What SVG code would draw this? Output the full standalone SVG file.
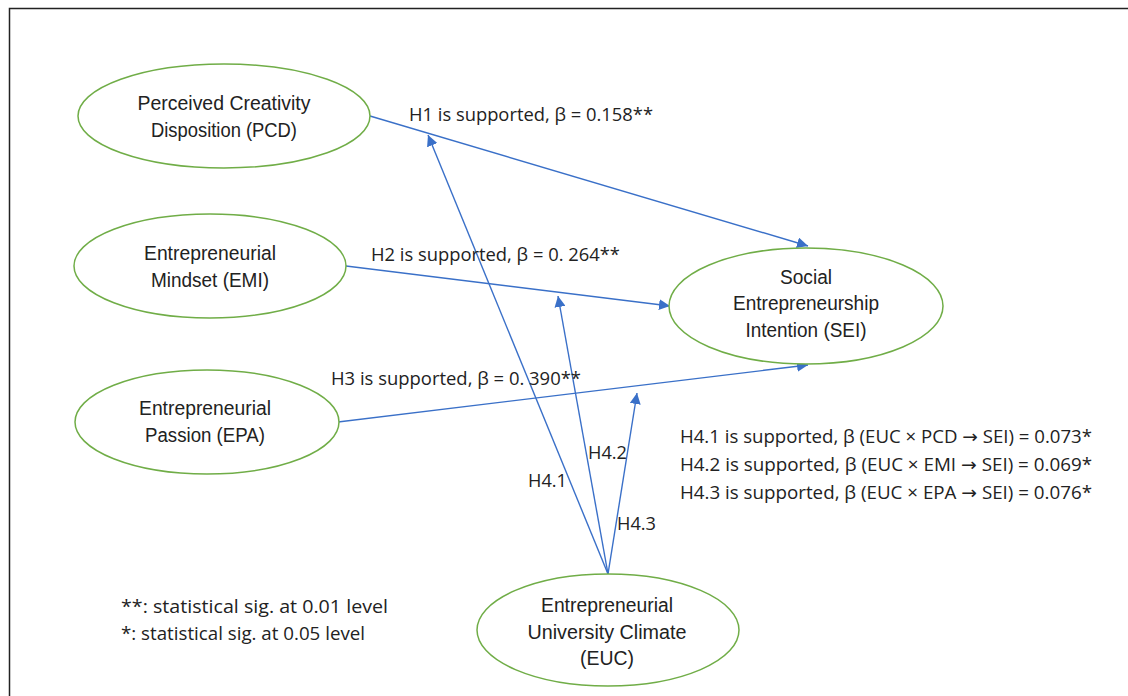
<svg xmlns="http://www.w3.org/2000/svg" width="1128" height="696" viewBox="0 0 1128 696">
<defs>
<style>
.frame{fill:#fff;stroke:#222;stroke-width:1.5}
.node{fill:#fff;stroke:#70ad47;stroke-width:1.5}
.nt{font-family:"Liberation Sans",Arial,sans-serif;font-size:20px;fill:#222;text-anchor:middle}
.lbl{font-family:"Open Sans","Noto Sans",sans-serif;font-size:18px;fill:#222}
.ar{font-family:"DejaVu Sans",sans-serif}
.edge{stroke:#3a70c8;stroke-width:1.4;fill:none;marker-end:url(#ah)}
</style>
<marker id="ah" viewBox="0 0 10 10" refX="10" refY="5" markerWidth="11" markerHeight="11" markerUnits="userSpaceOnUse" orient="auto">
<path d="M0,0 L10,5 L0,10 z" fill="#3a70c8"/>
</marker>
</defs>
<rect width="1128" height="696" fill="#fff"/>
<rect class="frame" x="9.5" y="8.5" width="1130" height="700"/>
<g id="connectors">
<line class="edge" x1="370" y1="116" x2="808" y2="246"/>
<line class="edge" x1="346" y1="266" x2="670" y2="306"/>
<line class="edge" x1="338" y1="422" x2="808" y2="365"/>
<line class="edge" x1="608" y1="574" x2="428" y2="135"/>
<line class="edge" x1="608" y1="574" x2="558" y2="296"/>
<line class="edge" x1="608" y1="574" x2="637" y2="393"/>
</g>
<g id="node-pcd">
<ellipse class="node" cx="224" cy="116" rx="146" ry="52"/>
<text class="nt" x="224" y="110" textLength="173" lengthAdjust="spacingAndGlyphs">Perceived Creativity</text>
<text class="nt" x="224" y="137" textLength="146" lengthAdjust="spacingAndGlyphs">Disposition (PCD)</text>
</g>
<g id="node-emi">
<ellipse class="node" cx="210" cy="266" rx="136" ry="52"/>
<text class="nt" x="210" y="260" textLength="132" lengthAdjust="spacingAndGlyphs">Entrepreneurial</text>
<text class="nt" x="210" y="287" textLength="118" lengthAdjust="spacingAndGlyphs">Mindset (EMI)</text>
</g>
<g id="node-epa">
<ellipse class="node" cx="207" cy="422" rx="132" ry="52"/>
<text class="nt" x="205" y="415" textLength="132" lengthAdjust="spacingAndGlyphs">Entrepreneurial</text>
<text class="nt" x="205" y="442" textLength="120" lengthAdjust="spacingAndGlyphs">Passion (EPA)</text>
</g>
<g id="node-sei">
<ellipse class="node" cx="806" cy="306" rx="137" ry="58"/>
<text class="nt" x="806" y="284" textLength="52" lengthAdjust="spacingAndGlyphs">Social</text>
<text class="nt" x="806" y="310" textLength="146" lengthAdjust="spacingAndGlyphs">Entrepreneurship</text>
<text class="nt" x="806" y="337" textLength="121" lengthAdjust="spacingAndGlyphs">Intention (SEI)</text>
</g>
<g id="node-euc">
<ellipse class="node" cx="608" cy="630" rx="131" ry="56"/>
<text class="nt" x="607" y="612" textLength="132" lengthAdjust="spacingAndGlyphs">Entrepreneurial</text>
<text class="nt" x="607" y="639" textLength="159" lengthAdjust="spacingAndGlyphs">University Climate</text>
<text class="nt" x="607" y="665" textLength="54" lengthAdjust="spacingAndGlyphs">(EUC)</text>
</g>
<g id="labels">
<text class="lbl" x="409" y="121" textLength="244" lengthAdjust="spacingAndGlyphs">H1 is supported, β = 0.158**</text>
<text class="lbl" x="371" y="261" textLength="249" lengthAdjust="spacingAndGlyphs">H2 is supported, β = 0. 264**</text>
<text class="lbl" x="331" y="385" textLength="250" lengthAdjust="spacingAndGlyphs">H3 is supported, β = 0. 390**</text>
<text class="lbl" x="528" y="487" textLength="39" lengthAdjust="spacingAndGlyphs">H4.1</text>
<text class="lbl" x="588" y="459" textLength="39" lengthAdjust="spacingAndGlyphs">H4.2</text>
<text class="lbl" x="617" y="530" textLength="39" lengthAdjust="spacingAndGlyphs">H4.3</text>
<text class="lbl" x="680" y="443" textLength="412" lengthAdjust="spacingAndGlyphs">H4.1 is supported, β (EUC × PCD <tspan class="ar">→</tspan> SEI) = 0.073*</text>
<text class="lbl" x="680" y="471" textLength="412" lengthAdjust="spacingAndGlyphs">H4.2 is supported, β (EUC × EMI <tspan class="ar">→</tspan> SEI) = 0.069*</text>
<text class="lbl" x="680" y="499" textLength="412" lengthAdjust="spacingAndGlyphs">H4.3 is supported, β (EUC × EPA <tspan class="ar">→</tspan> SEI) = 0.076*</text>
<text class="lbl" x="121" y="613" textLength="267" lengthAdjust="spacingAndGlyphs">**: statistical sig. at 0.01 level</text>
<text class="lbl" x="121" y="640" textLength="244" lengthAdjust="spacingAndGlyphs">*: statistical sig. at 0.05 level</text>
</g>
</svg>
